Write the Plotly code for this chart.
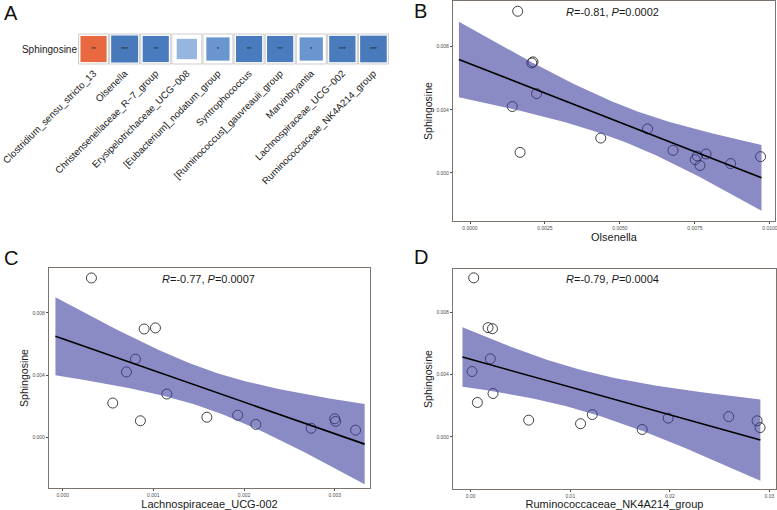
import numpy as np
import plotly.graph_objects as go

# ---------------- data ----------------
genera = ["Clostridium_sensu_stricto_13", "Olsenella", "Christensenellaceae_R\u22127_group",
          "Erysipelotrichaceae_UCG\u2212008", "[Eubacterium]_nodatum_group", "Syntrophococcus",
          "[Ruminococcus]_gauvreauii_group", "Marvinbryantia", "Lachnospiraceae_UCG\u2212002",
          "Ruminococcaceae_NK4A214_group"]
corr = [0.76, -0.81, -0.76, -0.46, -0.60, -0.76, -0.76, -0.60, -0.77, -0.79]
stars = ["**", "***", "**", "", "*", "**", "**", "*", "***", "***"]

sphingosine = [0.01025, 0.00697, 0.00704, 0.00503, 0.00421, 0.00279, 0.00221, 0.00107,
               0.00130, 0.00143, 0.00084, 0.00059, 0.00120, 0.00103, 0.00047]
olsenella = [0.00159, 0.00206, 0.00210, 0.00222, 0.00141, 0.00592, 0.00436, 0.00758,
             0.00167, 0.00677, 0.00751, 0.00869, 0.00787, 0.00969, 0.00767]
lachno = [0.000317, 0.000898, 0.001023, 0.000802, 0.000703, 0.001148, 0.000552, 0.000857,
          0.00159, 0.00193, 0.00213, 0.00274, 0.00300, 0.00301, 0.00323]
rumino = [0.0003, 0.00218, 0.00174, 0.00197, 0.00013, 0.00224, 0.00067, 0.00582,
          0.02591, 0.01221, 0.01103, 0.02906, 0.01983, 0.02876, 0.01722]

stat_text = ["<i>R</i>=-0.81, <i>P</i>=0.0002", "<i>R</i>=-0.77, <i>P</i>=0.0007",
             "<i>R</i>=-0.79, <i>P</i>=0.0004"]
x_titles = ["Olsenella", "Lachnospiraceae_UCG-002", "Ruminococcaceae_NK4A214_group"]
fit_ranges = [(-0.00037, 0.00972), (-0.00008, 0.00333), (-0.00083, 0.02909)]
T_CRIT = 2.160  # t(0.975, df=13)

FONT = "Arial, 'Liberation Sans', sans-serif"
W, H = 777, 510


def px_dom(a, b, total):
    return [a / total, b / total]


def py_dom(top, bottom):
    return [1 - bottom / H, 1 - top / H]


fig = go.Figure()

# ---------------- panel A: correlation squares ----------------
idx = list(range(len(genera)))
cell = 30
fig.add_trace(go.Scatter(
    x=idx, y=[0] * len(idx), mode="markers", xaxis="x", yaxis="y",
    marker=dict(symbol="square", size=cell, color="white", opacity=1,
                line=dict(color="#cdcdcd", width=1)),
    hoverinfo="skip"))
sizes = [cell * np.sqrt(abs(c)) for c in corr]
cscale = [[0.0, "#3d6fb0"], [0.13, "#4a7cbf"], [0.2, "#6a96d0"], [0.27, "#97b6df"],
          [0.5, "#ffffff"], [0.88, "#e8693f"], [1.0, "#d0431f"]]
fig.add_trace(go.Scatter(
    x=idx, y=[0] * len(idx), mode="markers+text", xaxis="x", yaxis="y",
    text=stars, textposition="middle center",
    textfont=dict(size=6, color="#222222", family=FONT),
    marker=dict(symbol="square", size=sizes, color=corr, colorscale=cscale,
                cmin=-1, cmax=1, opacity=1, line=dict(width=0)),
    hoverinfo="skip"))

# ---------------- panels B, C, D ----------------
xs_list = [olsenella, lachno, rumino]
axis_ids = [("x2", "y2"), ("x3", "y3"), ("x4", "y4")]
for xs, (xa, ya), (f0, f1) in zip(xs_list, axis_ids, fit_ranges):
    x = np.array(xs)
    y = np.array(sphingosine)
    n = len(x)
    b, a = np.polyfit(x, y, 1)
    resid = y - (a + b * x)
    s = np.sqrt(np.sum(resid ** 2) / (n - 2))
    sxx = np.sum((x - x.mean()) ** 2)
    grid = np.linspace(f0, f1, 80)
    yhat = a + b * grid
    se = s * np.sqrt(1 / n + (grid - x.mean()) ** 2 / sxx)
    upper = yhat + T_CRIT * se
    lower = yhat - T_CRIT * se

    fig.add_trace(go.Scatter(
        x=x, y=y, mode="markers", xaxis=xa, yaxis=ya,
        marker=dict(symbol="circle-open", size=10, color="#111111", opacity=1,
                    line=dict(width=0.8, color="#111111")),
        hoverinfo="skip"))
    fig.add_trace(go.Scatter(
        x=np.concatenate([grid, grid[::-1]]), y=np.concatenate([upper, lower[::-1]]),
        mode="lines", fill="toself", fillcolor="rgba(60,60,157,0.6)",
        line=dict(width=0), xaxis=xa, yaxis=ya, hoverinfo="skip"))
    fig.add_trace(go.Scatter(
        x=grid, y=yhat, mode="lines", xaxis=xa, yaxis=ya,
        line=dict(color="black", width=1.6), hoverinfo="skip"))

BORDER = "#7d736d"
TICKC = "#4d4d4d"


def sc_xaxis(dom, rng, dtick, fmt, title):
    return dict(domain=dom, range=rng, dtick=dtick, tick0=0, tickformat=fmt,
                automargin=False, ticklabeloverflow="allow",
                showline=True, mirror=True, linecolor=BORDER, linewidth=1.2,
                ticks="outside", ticklen=2, tickwidth=0.8, tickcolor=TICKC,
                tickfont=dict(size=5, color=TICKC, family=FONT),
                showgrid=False, zeroline=False,
                title=dict(text=title, font=dict(size=11, color="#1a1a1a", family=FONT),
                           standoff=2))


def sc_yaxis(dom, rng, anchor):
    return dict(domain=dom, range=rng, dtick=0.004, tick0=0, tickformat=".3f",
                anchor=anchor, automargin=False, ticklabeloverflow="allow",
                showline=True, mirror=True, linecolor=BORDER, linewidth=1.2,
                ticks="outside", ticklen=2, tickwidth=0.8, tickcolor=TICKC,
                tickfont=dict(size=5, color=TICKC, family=FONT),
                showgrid=False, zeroline=False,
                title=dict(text="Sphingosine", font=dict(size=10.5, color="#1a1a1a", family=FONT),
                           standoff=1))


layout = dict(
    width=W, height=H, margin=dict(l=0, r=0, t=0, b=0, autoexpand=False),
    paper_bgcolor="white", plot_bgcolor="white", showlegend=False,
    font=dict(family=FONT),
    xaxis=dict(domain=px_dom(78, 389, W), range=[-0.5, 9.5], anchor="y", automargin=False,
               ticklabeloverflow="allow",
               tickvals=idx, ticktext=genera, tickangle=-45,
               tickfont=dict(size=9.7, color="#1a1a1a", family=FONT),
               showline=False, showgrid=False, zeroline=False, ticks=""),
    yaxis=dict(domain=py_dom(33, 65), range=[-0.5, 0.5], anchor="x", automargin=False,
               ticklabeloverflow="allow",
               tickvals=[0], ticktext=["Sphingosine"],
               tickfont=dict(size=10, color="#1a1a1a", family=FONT),
               showline=False, showgrid=False, zeroline=False, ticks=""),
    xaxis2=dict(anchor="y2", **sc_xaxis(px_dom(453, 775, W), [-0.000567, 0.01017], 0.0025, ".4f", x_titles[0])),
    yaxis2=sc_yaxis(py_dom(1, 221), [-0.00305, 0.0109], "x2"),
    xaxis3=dict(anchor="y3", **sc_xaxis(px_dom(49, 370, W), [-0.000151, 0.003389], 0.001, ".3f", x_titles[1])),
    yaxis3=sc_yaxis(py_dom(268, 488), [-0.00325, 0.01089], "x3"),
    xaxis4=dict(anchor="y4", **sc_xaxis(px_dom(453, 776, W), [-0.00178, 0.03066], 0.01, ".2f", x_titles[2])),
    yaxis4=sc_yaxis(py_dom(269, 489), [-0.00337, 0.01082], "x4"),
)

annotations = []
for letter, (lx, ly) in zip("ABCD", [(2, 13), (412, 11), (2, 258), (412, 257)]):
    annotations.append(dict(text=letter, xref="paper", yref="paper", x=lx / W, y=1 - ly / H,
                            xanchor="left", yanchor="middle", showarrow=False,
                            font=dict(size=20, color="#111111", family=FONT)))
for txt, (cx, cy) in zip(stat_text, [(612, 12), (208, 279), (612, 279)]):
    annotations.append(dict(text=txt, xref="paper", yref="paper", x=cx / W, y=1 - cy / H,
                            xanchor="center", yanchor="middle", showarrow=False,
                            font=dict(size=11, color="#1a1a1a", family=FONT)))
layout["annotations"] = annotations

fig.update_layout(**layout)
fig.write_html("out.html", config={"displayModeBar": False},
               post_script="document.body.style.margin='0';document.body.style.padding='0';")
